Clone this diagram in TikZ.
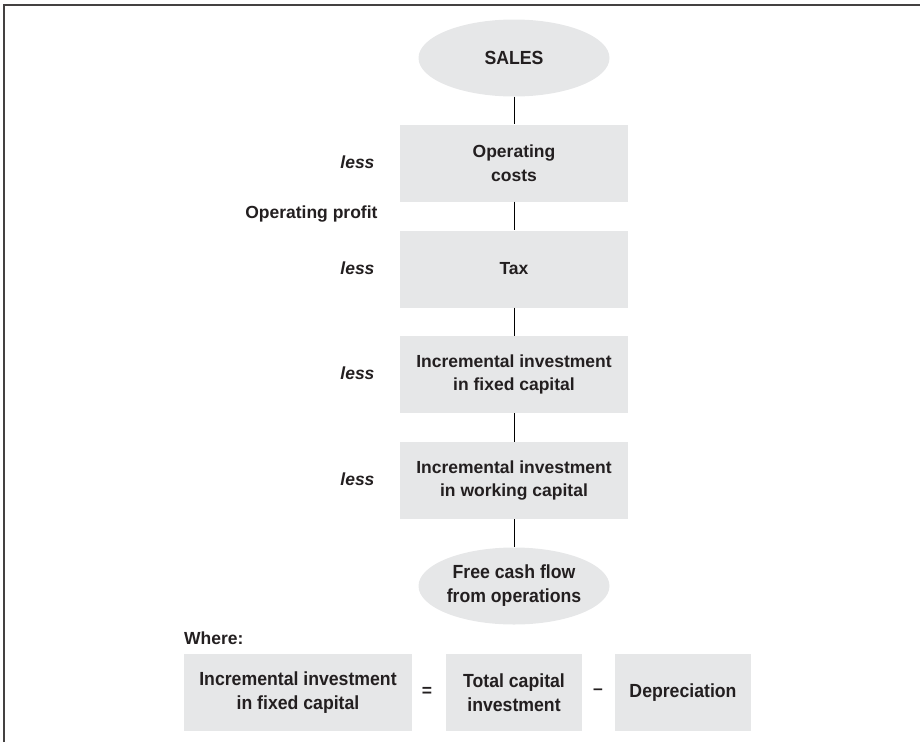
\documentclass[tikz,border=0pt]{standalone}
\usepackage{fontspec}
\setmainfont{Liberation Sans}
\newfontfamily\condfont{Liberation Sans}[FakeStretch=0.93]
\usetikzlibrary{shapes.geometric}
\definecolor{boxgray}{HTML}{E6E7E8}
\definecolor{ink}{HTML}{231F20}
\tikzset{
  x=1pt, y=-1pt,
  every node/.style={text=ink, font=\bfseries\fontsize{17.5}{23.5}\selectfont},
  flowbox/.style={rectangle, fill=boxgray, minimum width=228pt, minimum height=77pt, inner sep=0pt, align=center},
  smallbox/.style={rectangle, fill=boxgray, minimum width=136pt, minimum height=77pt, inner sep=0pt, align=center, font=\condfont\bfseries\fontsize{19}{24}\selectfont},
  widebox/.style={smallbox, minimum width=228pt},
  oval/.style={ellipse, fill=boxgray, minimum width=191pt, minimum height=77pt, inner sep=0pt, align=center, font=\condfont\bfseries\fontsize{19}{24}\selectfont},
  lesslabel/.style={anchor=east, font=\bfseries\itshape\fontsize{17.5}{23.5}\selectfont},
  link/.style={draw=black, line width=0.9pt},
  frame/.style={draw=ink!85, line width=1.3pt}
}
\begin{document}
\begin{tikzpicture}
\useasboundingbox (0,0) rectangle (920,742);
\coordinate (ftl) at (4,5);
\coordinate (ftr) at (920,5);
\coordinate (fbl) at (4,742);
\draw[frame] (fbl) -- (ftl) -- (ftr);

\node[oval] (sales) at (514,58) {SALES};
\node[flowbox] (oc) at (514,163) {Operating\\costs};
\node[flowbox] (tax) at (514,269) {Tax};
\node[flowbox] (iifc) at (514,374.5) {Incremental investment\\in fixed capital};
\node[flowbox] (iiwc) at (514,480.5) {Incremental investment\\in working capital};
\node[oval] (fcf) at (514,586) {Free cash flow\\from operations};

\draw[link] (sales) -- (oc);
\draw[link] (oc) -- (tax);
\draw[link] (tax) -- (iifc);
\draw[link] (iifc) -- (iiwc);
\draw[link] (iiwc) -- (fcf);

\node[lesslabel] (l1) at (378,162) {less};
\node[anchor=east] (op) at (381,214) {Operating profit};
\node[lesslabel] (l2) at (378,268) {less};
\node[lesslabel] (l3) at (378,373) {less};
\node[lesslabel] (l4) at (378,479) {less};

\node[anchor=west, inner sep=0pt] (where) at (184,638) {Where:};
\node[widebox] (b1) at (298,692.5) {Incremental investment\\in fixed capital};
\node (eq) at (427,692) {=};
\node[smallbox] (b2) at (514,692.5) {Total capital\\investment};
\node (minus) at (598,692) {--};
\node[smallbox] (b3) at (683,692.5) {Depreciation};
\end{tikzpicture}
\end{document}
